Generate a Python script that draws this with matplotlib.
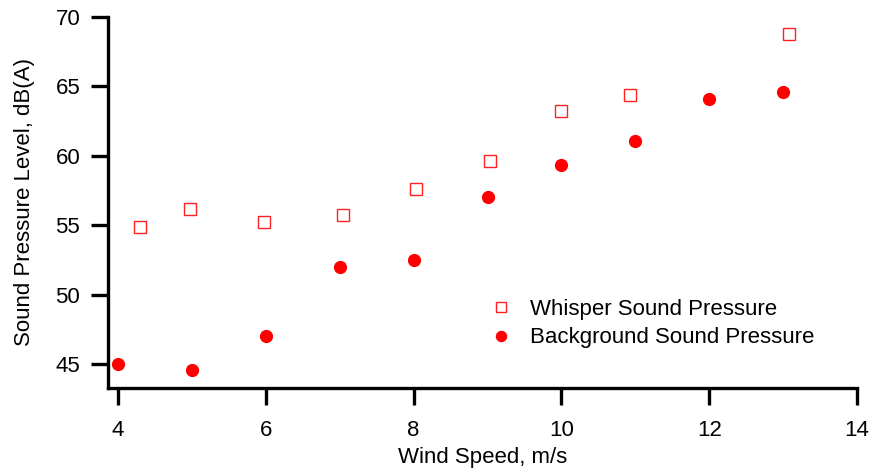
import matplotlib.pyplot as plt

plt.rcParams['font.family'] = ['Liberation Sans', 'DejaVu Sans']

# whisper sound pressure (open squares)
whisper_x = [4.3, 4.97, 5.97, 7.04, 8.03, 9.03, 10.0, 10.93, 13.08]
whisper_y = [54.9, 56.2, 55.2, 55.75, 57.6, 59.65, 63.2, 64.4, 68.8]

# background sound pressure (filled circles)
bg_x = [4, 5, 6, 7, 8, 9, 10, 11, 12, 13]
bg_y = [45.0, 44.55, 47.0, 52.0, 52.5, 57.0, 59.35, 61.1, 64.1, 64.6]

x_ticks = [4, 6, 8, 10, 12, 14]
y_ticks = [45, 50, 55, 60, 65, 70]

fig = plt.figure(figsize=(8.69, 4.69), dpi=100)
ax = fig.add_axes([0.1243, 0.1727, 0.8619, 0.7911])

ax.plot(whisper_x, whisper_y, linestyle='none', marker='s', markersize=9,
        markerfacecolor='none', markeredgecolor='#ff2020', markeredgewidth=1.0,
        label='Whisper Sound Pressure')
ax.plot(bg_x, bg_y, linestyle='none', marker='o', markersize=8.5,
        color='#ff0000', label='Background Sound Pressure')

ax.set_xlim(3.865, 14)
ax.set_ylim(43.27, 70)
ax.set_xticks(x_ticks)
ax.set_yticks(y_ticks)

for s in ['top', 'right']:
    ax.spines[s].set_visible(False)
for s in ['left', 'bottom']:
    ax.spines[s].set_linewidth(2.4)

ax.tick_params(axis='both', direction='out', length=12, width=2.4, labelsize=16)
ax.tick_params(axis='x', pad=11)
ax.tick_params(axis='y', pad=8)

ax.set_xlabel('Wind Speed, m/s', fontsize=16, labelpad=4)
ax.set_ylabel('Sound Pressure Level, dB(A)', fontsize=16, labelpad=15)

ax.legend(loc='upper left', bbox_to_anchor=(0.483, 0.295), frameon=False,
          fontsize=16, handletextpad=0.8, labelspacing=0.35, markerscale=0.85,
          handlelength=1.0)

fig.savefig('out.png', dpi=100)
